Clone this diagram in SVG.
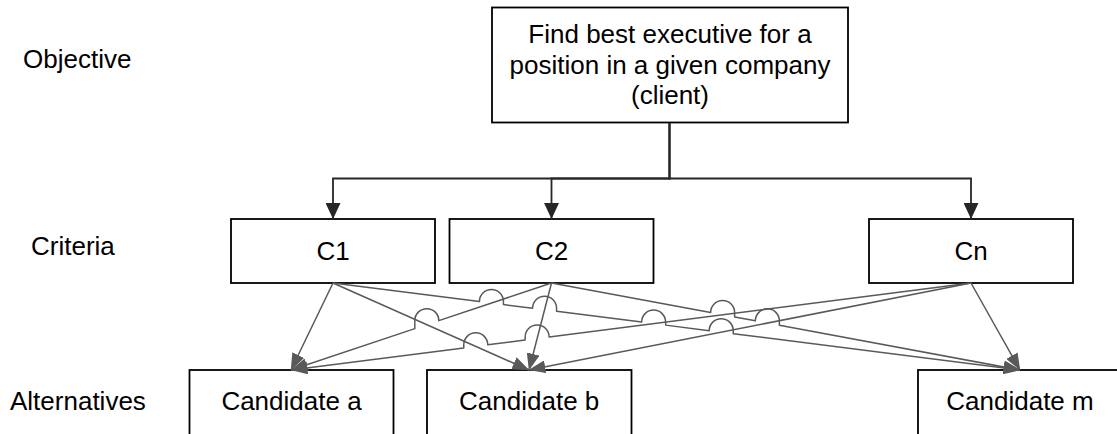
<svg xmlns="http://www.w3.org/2000/svg" width="1117" height="434" viewBox="0 0 1117 434">
<style>
.box{fill:#fff;stroke:#000;stroke-width:1.8}
.t{font-family:"Liberation Sans",Arial,sans-serif;font-size:26px;fill:#000}
.c{text-anchor:middle}
.tree{fill:none;stroke:#262626;stroke-width:1.8;marker-end:url(#ad)}
.gc{fill:none;stroke:#595959;stroke-width:1.5;stroke-linejoin:round;marker-end:url(#ag)}
</style>
<defs>
<marker id="ad" viewBox="0 0 16 15" refX="16" refY="7.5" markerWidth="16" markerHeight="15" orient="auto" markerUnits="userSpaceOnUse"><path d="M0,0 L16,7.5 L0,15 z" fill="#262626"/></marker>
<marker id="ag" viewBox="0 0 17 13" refX="16.5" refY="6.5" markerWidth="17" markerHeight="13" orient="auto" markerUnits="userSpaceOnUse"><path d="M0,0 L17,6.5 L0,13 z" fill="#595959"/></marker>
</defs>
<g id="labels">
<text class="t" x="23" y="68">Objective</text>
<text class="t" x="31" y="255">Criteria</text>
<text class="t" x="10" y="410">Alternatives</text>
</g>
<g id="objective">
<rect class="box" x="492" y="7.5" width="356" height="115"/>
<text class="t c" x="670" y="43">Find best executive for a</text>
<text class="t c" x="670" y="73.5">position in a given company</text>
<text class="t c" x="670" y="104">(client)</text>
</g>
<g id="c1"><rect class="box" x="231" y="219" width="204" height="64"/><text class="t c" x="333" y="259.5">C1</text></g>
<g id="c2"><rect class="box" x="449.5" y="219" width="204" height="64"/><text class="t c" x="551.5" y="259.5">C2</text></g>
<g id="cn"><rect class="box" x="869" y="219" width="204" height="64"/><text class="t c" x="971" y="259.5">Cn</text></g>
<g id="cand-a"><rect class="box" x="189.5" y="370" width="204" height="70"/><text class="t c" x="291.5" y="410">Candidate a</text></g>
<g id="cand-b"><rect class="box" x="427" y="370" width="204.5" height="70"/><text class="t c" x="529.2" y="410">Candidate b</text></g>
<g id="cand-m"><rect class="box" x="918" y="370" width="204" height="70"/><text class="t c" x="1020" y="410">Candidate m</text></g>
<g id="connectors">
<path class="tree" d="M669.5 123 V178.5 H333 V219"/>
<path class="tree" d="M669.5 123 V178.5 H551.5 V219"/>
<path class="tree" d="M669.5 123 V178.5 H971 V219"/>
<path class="gc" d="M333 283 L291 370"/>
<path class="gc" d="M333 283 L529 370"/>
<path class="gc" d="M551.5 283 L529 370"/>
<path class="gc" d="M971 283 L529 370"/>
<path class="gc" d="M971 283 L1020 370"/>
<path class="gc" d="M551.5 283 L438.81 320.64 A12 12 0 0 0 414.81 320.64 L414.81 328.65 L291 370"/>
<path class="gc" d="M971 283 L549.14 336.97 A12 12 0 0 0 525.14 336.97 L525.14 340.04 L487.75 344.83 A12 12 0 0 0 463.75 344.83 L463.75 347.9 L291 370"/>
<path class="gc" d="M551.5 283 L710.63 312.55 A12 12 0 0 1 734.63 312.55 L734.63 317.01 L755.36 320.86 A12 12 0 0 1 779.36 320.86 L779.36 325.31 L1020 370"/>
<path class="gc" d="M333 283 L479.43 301.54 A12 12 0 0 1 503.43 301.54 L503.43 304.58 L532.57 308.27 A12 12 0 0 1 556.57 308.27 L556.57 311.31 L641.63 322.08 A12 12 0 0 1 665.63 322.08 L665.63 325.12 L709.22 330.64 A12 12 0 0 1 733.22 330.64 L733.22 333.68 L1020 370"/>
</g>
</svg>
